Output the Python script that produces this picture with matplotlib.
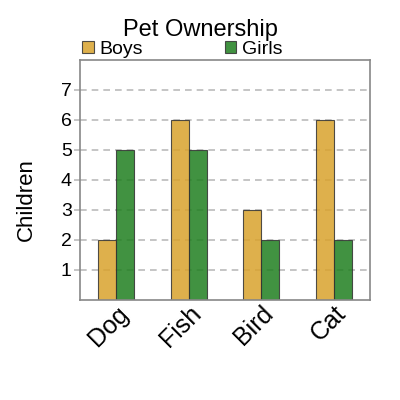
import matplotlib.pyplot as plt
import numpy as np

plt.rcParams['font.family'] = ['Liberation Sans', 'DejaVu Sans']

# Data
pets = ["Dog", "Fish", "Bird", "Cat"]
boys = [2, 6, 3, 6]
girls = [5, 5, 2, 2]
y_ticks = [1, 2, 3, 4, 5, 6, 7]

fig = plt.figure(figsize=(4, 4), dpi=100)
ax = fig.add_axes([0.2, 0.25, 0.725, 0.6])

x = np.arange(len(pets))
w = 0.25
ax.bar(x - w / 2, boys, w, color='#d9a22c', alpha=0.85, edgecolor='#333333', linewidth=0.8, label='Boys', zorder=2)
ax.bar(x + w / 2, girls, w, color='#1f7f1f', alpha=0.85, edgecolor='#333333', linewidth=0.8, label='Girls', zorder=2)

ax.set_xlim(-0.5, len(pets) - 0.5)
ax.set_ylim(0, 8)
ax.set_yticks(y_ticks)
ax.set_xticks(x)
ax.set_xticklabels(pets, rotation=45, ha='right', rotation_mode='anchor', fontsize=18)
ax.tick_params(axis='y', labelsize=14, length=4, width=1.2, color='#bbbbbb', pad=2)
ax.tick_params(axis='x', length=0, pad=1)
ax.yaxis.grid(True, linestyle=(0, (4, 3)), color='#bbbbbb', linewidth=1.2, zorder=0)
ax.set_axisbelow(True)
for s in ax.spines.values():
    s.set_color('#888888')
    s.set_linewidth(1.2)

ax.set_ylabel('Children', fontsize=16)
ax.yaxis.set_label_coords(-0.15, 0.42)
fig.suptitle('Pet Ownership', fontsize=17, x=0.5, y=0.952)
ax.legend(loc='lower left', bbox_to_anchor=(0, 1.0), ncol=2,
          frameon=False, borderaxespad=0, borderpad=0.1, handlelength=0.6, handleheight=0.6,
          handletextpad=0.3, columnspacing=4.2, fontsize=14)

plt.savefig('out.png')
